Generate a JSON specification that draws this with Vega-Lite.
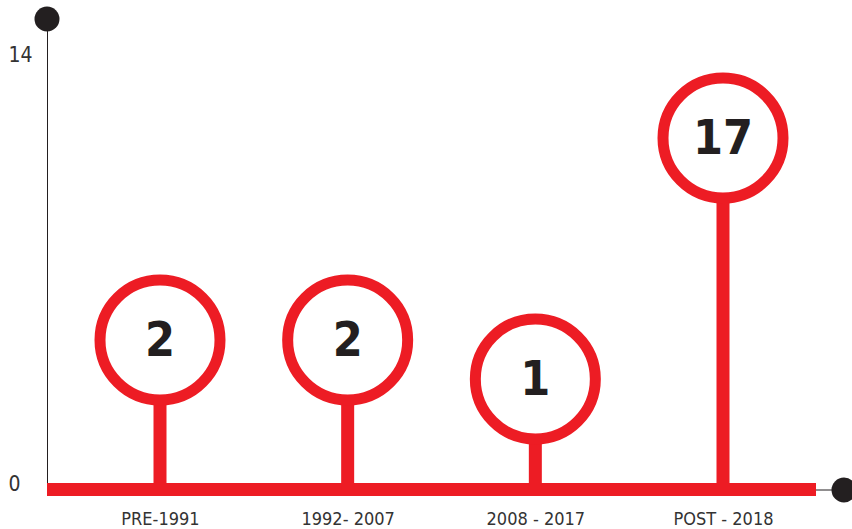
{
  "$schema": "https://vega.github.io/schema/vega-lite/v6.json",
  "width": 769,
  "height": 470,
  "padding": {"left": 47, "top": 19, "right": 36, "bottom": 40},
  "autosize": {"type": "none"},
  "background": "white",
  "config": {"view": {"stroke": null}},
  "data": {"values": [
    {"period": "PRE-1991", "count": 2},
    {"period": "1992- 2007", "count": 2},
    {"period": "2008 - 2017", "count": 1},
    {"period": "POST - 2018", "count": 17}
  ]},
  "layer": [
    {
      "data": {"values": [{"role": "axis"}]},
      "encoding": {
        "x": {"type": "quantitative", "scale": {"domain": [0, 1], "nice": false, "zero": false}, "axis": null},
        "y": {"type": "quantitative", "scale": {"domain": [-0.163, 15.175], "nice": false, "zero": false},
          "axis": {"orient": "left", "values": [0, 14], "title": null, "grid": false, "ticks": false, "tickSize": 0,
            "domain": true, "domainColor": "#231f20", "domainWidth": 1,
            "labelFont": "Liberation Sans Narrow, DejaVu Sans Condensed, sans-serif", "labelFontSize": 21,
            "labelColor": "#333333", "labelAlign": "left", "labelPadding": 39}}
      },
      "layer": [
        {"mark": {"type": "point", "filled": true, "color": "#231f20", "size": 625, "opacity": 1},
         "encoding": {"x": {"datum": 0}, "y": {"datum": 15.175}}},
        {"mark": {"type": "rule", "color": "#231f20", "strokeWidth": 1},
         "encoding": {"x": {"datum": 1}, "x2": {"datum": 1.0364}, "y": {"datum": -0.196}}},
        {"mark": {"type": "point", "filled": true, "color": "#231f20", "size": 625, "opacity": 1},
         "encoding": {"x": {"datum": 1.0364}, "y": {"datum": -0.196}}}
      ]
    },
    {
      "encoding": {
        "x": {"field": "period", "type": "ordinal", "sort": null,
          "scale": {"type": "point", "range": [113, 676], "padding": 0},
          "axis": {"orient": "bottom", "title": null, "domain": false, "ticks": false, "tickSize": 0, "grid": false,
            "labelAngle": 0, "labelFont": "Liberation Sans Narrow, DejaVu Sans Condensed, sans-serif",
            "labelFontSize": 18, "labelColor": "#333333", "labelPadding": 21}},
        "y": {"field": "count", "type": "quantitative",
          "scale": {"type": "linear", "domain": [0, 1, 2, 17], "range": [470.5, 360, 321, 119], "nice": false, "zero": false},
          "axis": null}
      },
      "layer": [
        {"mark": {"type": "rule", "color": "#ed1c24", "strokeWidth": 13, "strokeCap": "butt"},
         "encoding": {"x": null, "y": {"datum": 0}}},
        {"mark": {"type": "rule", "color": "#ed1c24", "strokeWidth": 13, "strokeCap": "butt"},
         "encoding": {"y2": {"datum": 0}}},
        {"mark": {"type": "point", "shape": "circle", "filled": false, "fill": "white", "fillOpacity": 1,
          "stroke": "#ed1c24", "strokeWidth": 11, "size": 14400, "opacity": 1}},
        {"mark": {"type": "text", "font": "Liberation Sans Narrow, DejaVu Sans Condensed, sans-serif",
          "fontWeight": "bold", "fontSize": 48, "color": "#231f20", "baseline": "middle", "align": "center", "dy": 2},
         "encoding": {"text": {"field": "count", "type": "quantitative"}}}
      ]
    }
  ],
  "resolve": {"scale": {"x": "independent", "y": "independent"}, "axis": {"x": "independent", "y": "independent"}}
}
